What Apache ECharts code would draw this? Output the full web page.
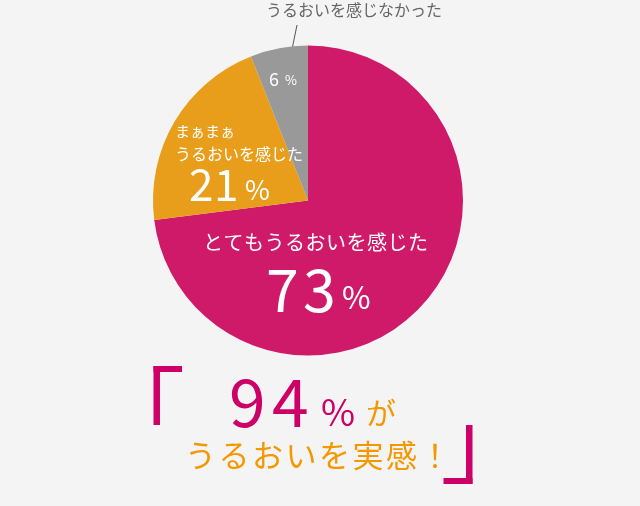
<!DOCTYPE html>
<html>
<head>
<meta charset="utf-8">
<script src="https://cdn.jsdelivr.net/npm/echarts@6/dist/echarts.min.js"></script>
<style>
html,body{margin:0;padding:0;background:#f4f4f4;}
#c{width:640px;height:506px;}
</style>
</head>
<body>
<div id="c"></div>
<script>
const categories = ['とてもうるおいを感じた', 'まぁまぁうるおいを感じた', 'うるおいを感じなかった'];
const values = [73, 21, 6];
const colors = ['#cf1a69', '#e89e1a', '#999999'];
const totalLabel = values[0] + values[1];

const FONT = '"Noto Sans CJK JP", "Noto Sans", sans-serif';
const MAG = '#cc0066';
const ORG = '#f39800';

function txt(x, y, text, size, color, opts) {
  return {
    type: 'text', x: x, y: y, silent: true, z: 10,
    style: Object.assign({
      text: text, fontSize: size, fill: color, fontFamily: FONT,
      align: 'left', verticalAlign: 'middle'
    }, opts || {})
  };
}
// place each character at a fixed pitch (letter spacing)
function spaced(x, y, text, size, color, pitch) {
  return Array.from(text).map((ch, i) => txt(x + i * pitch, y, ch, size, color));
}

const chart = echarts.init(document.getElementById('c'));
chart.setOption({
  backgroundColor: '#f4f4f4',
  animation: false,
  series: [{
    type: 'pie',
    center: [308, 200.5],
    radius: [0, 155],
    startAngle: 90,
    clockwise: true,
    label: { show: false },
    labelLine: { show: false },
    itemStyle: { borderWidth: 0 },
    emphasis: { disabled: true },
    data: categories.map((c, i) => ({ name: c, value: values[i], itemStyle: { color: colors[i] } }))
  }],
  graphic: [].concat(
    // top outside label
    [txt(354, 10, categories[2], 16, '#666666', { align: 'center' })],
    [{ type: 'line', silent: true, shape: { x1: 297, y1: 25, x2: 290, y2: 59 }, style: { stroke: '#555555', lineWidth: 1 } }],
    [txt(269, 79.5, String(values[2]), 18, '#ffffff')],
    [txt(285, 80.5, '%', 13, '#ffffff')],
    // orange slice labels
    [txt(175, 131, 'まぁまぁ', 15, '#ffffff')],
    [txt(175, 153.5, 'うるおいを感じた', 16, '#ffffff')],
    spaced(189, 184, String(values[1]), 44, '#ffffff', 25),
    [txt(245, 190, '%', 27, '#ffffff')],
    // magenta slice labels
    spaced(203, 242, categories[0], 20, '#ffffff', 20.5),
    spaced(266, 290, String(values[0]), 59, '#ffffff', 37),
    [txt(342, 297.5, '%', 31, '#ffffff')],
    // bottom message brackets
    [
      { type: 'rect', silent: true, shape: { x: 153.5, y: 366, width: 6.5, height: 59 }, style: { fill: MAG } },
      { type: 'rect', silent: true, shape: { x: 153.5, y: 366, width: 28.5, height: 6 }, style: { fill: MAG } },
      { type: 'rect', silent: true, shape: { x: 466, y: 425, width: 6.5, height: 59 }, style: { fill: MAG } },
      { type: 'rect', silent: true, shape: { x: 443.5, y: 478, width: 29, height: 6 }, style: { fill: MAG } }
    ],
    spaced(229, 401.5, String(totalLabel), 66, MAG, 43),
    [txt(321, 411.5, '%', 37, MAG)],
    [txt(366, 413, 'が', 30, ORG)],
    spaced(185, 455, 'うるおいを実感！', 31, ORG, 33.5)
  )
});
</script>
</body>
</html>
